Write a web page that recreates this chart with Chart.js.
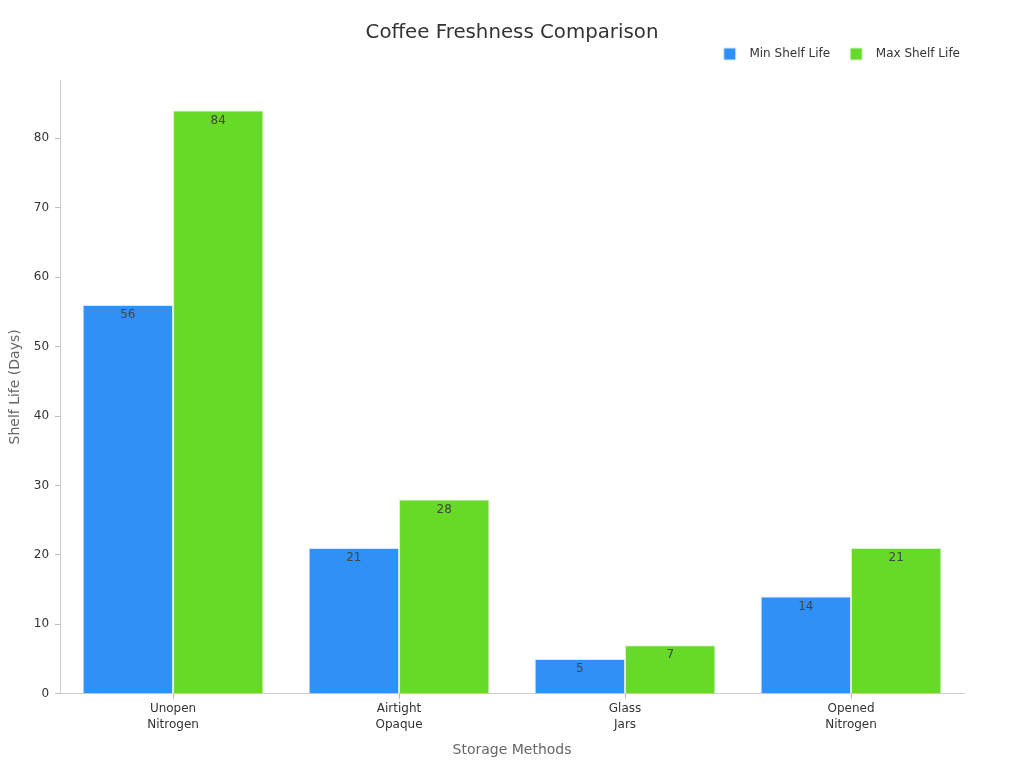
<!DOCTYPE html>
<html>
<head>
<meta charset="utf-8">
<title>Coffee Freshness Comparison</title>
<script src="https://cdn.jsdelivr.net/npm/chart.js@4.4.1/dist/chart.umd.min.js"></script>
<style>
  html, body { margin: 0; padding: 0; background: #fff; }
  #wrap { width: 1024px; height: 768px; }
</style>
</head>
<body>
<div id="wrap"><canvas id="chart"></canvas></div>
<script>
const categories = [['Unopen', 'Nitrogen'], ['Airtight', 'Opaque'], ['Glass', 'Jars'], ['Opened', 'Nitrogen']];
const minShelfLife = [56, 21, 5, 14];
const maxShelfLife = [84, 28, 7, 21];
const chartTitle = 'Coffee Freshness Comparison';

// draws the value just inside the top of each bar
const barLabels = {
    id: 'barLabels',
    afterDatasetsDraw(chart) {
        const ctx = chart.ctx;
        ctx.save();
        ctx.font = '12px "DejaVu Sans", sans-serif';
        ctx.fillStyle = '#444';
        ctx.textAlign = 'center';
        ctx.textBaseline = 'middle';
        chart.data.datasets.forEach((ds, i) => {
            chart.getDatasetMeta(i).data.forEach((bar, j) => {
                ctx.fillText(ds.data[j], bar.x, bar.y + 10);
            });
        });
        ctx.restore();
    }
};

// title centred on the whole canvas, not on the padded box
const pageTitle = {
    id: 'pageTitle',
    afterDraw(chart) {
        const ctx = chart.ctx;
        ctx.save();
        ctx.font = '19.8px "DejaVu Sans", sans-serif';
        ctx.fillStyle = '#333';
        ctx.textAlign = 'center';
        ctx.textBaseline = 'middle';
        ctx.fillText(chartTitle, chart.width / 2, 33);
        ctx.restore();
    }
};

// extra room under the legend, and push it to the right edge
const legendTweak = {
    id: 'legendTweak',
    beforeInit(chart) {
        const fit = chart.legend.fit;
        chart.legend.fit = function () {
            fit.bind(chart.legend)();
            this.height += 10;
        };
    },
    afterLayout(chart) {
        chart.legend.left += 16;
        chart.legend.right += 16;
    }
};

Chart.defaults.font.family = '"DejaVu Sans", sans-serif';

new Chart(document.getElementById('chart').getContext('2d'), {
    type: 'bar',
    data: {
        labels: categories,
        datasets: [{
            label: 'Min Shelf Life',
            data: minShelfLife,
            backgroundColor: '#2f91f7',
            borderColor: '#d8e8f8',
            borderWidth: 1
        }, {
            label: 'Max Shelf Life',
            data: maxShelfLife,
            backgroundColor: '#66da26',
            borderColor: '#d8f0d0',
            borderWidth: 1
        }]
    },
    options: {
        responsive: true,
        maintainAspectRatio: false,
        animation: false,
        layout: { padding: { left: 3, right: 60, top: 28, bottom: 5 } },
        datasets: { bar: { categoryPercentage: 0.8, barPercentage: 1.0 } },
        scales: {
            x: {
                grid: { display: true, drawOnChartArea: false, offset: false, tickLength: 5, color: '#bbb' },
                border: { color: '#ccc' },
                ticks: { color: '#333', font: { size: 12, lineHeight: 1.35 }, padding: 2 },
                title: { display: true, text: 'Storage Methods', color: '#666', font: { size: 14 }, padding: { top: 7 } }
            },
            y: {
                min: 0,
                max: 88.4,
                grid: { display: true, drawOnChartArea: false, tickLength: 5, color: '#bbb' },
                border: { color: '#ccc' },
                ticks: { color: '#333', font: { size: 12 }, stepSize: 10, padding: 6 },
                afterBuildTicks(axis) {
                    axis.ticks = axis.ticks.filter(t => t.value % 10 === 0);
                },
                title: { display: true, text: 'Shelf Life (Days)', color: '#666', font: { size: 14 }, padding: 4 }
            }
        },
        plugins: {
            title: { display: false },
            legend: {
                align: 'end',
                labels: {
                    boxWidth: 12, boxHeight: 12, color: '#333', font: { size: 12 }, padding: 20,
                    generateLabels(chart) {
                        return Chart.defaults.plugins.legend.labels.generateLabels(chart)
                            .map(item => Object.assign(item, { text: '  ' + item.text }));
                    }
                }
            },
            tooltip: { enabled: false }
        }
    },
    plugins: [barLabels, pageTitle, legendTweak]
});
</script>
</body>
</html>
